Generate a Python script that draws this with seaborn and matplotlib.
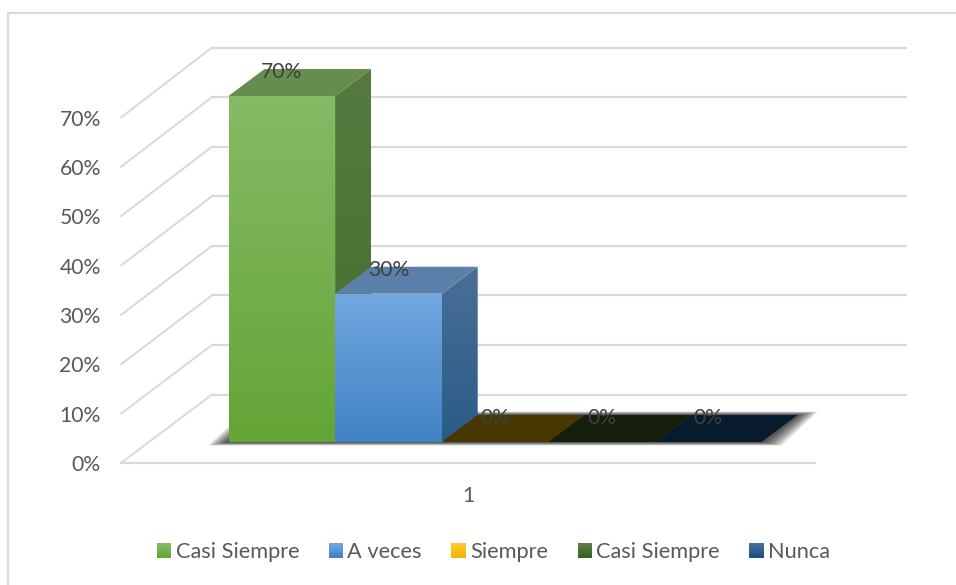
import numpy as np
import pandas as pd
import matplotlib
matplotlib.use("Agg")
import matplotlib.pyplot as plt
from matplotlib.colors import to_rgb, LinearSegmentedColormap
from matplotlib.legend_handler import HandlerBase
from matplotlib.lines import Line2D
from matplotlib.patches import ConnectionPatch, Patch, Polygon, Rectangle
import seaborn as sns

# ---- data ----
series_names = ["Casi Siempre", "A veces", "Siempre", "Casi Siempre", "Nunca"]
series_values = [70, 30, 0, 0, 0]
value_ticks = [0, 10, 20, 30, 40, 50, 60, 70]
category_label = "1"

# ---- styles ----
face_top = ["#86BA66", "#72A8E0", "#FFC832", "#5F7F4A", "#44709F"]
face_bottom = ["#64A536", "#4082C4", "#EFB800", "#3A611F", "#1A5288"]
side_top = ["#567A40", "#4A6F96"]
side_bottom = ["#43702A", "#2B5B88"]
roof_colors = ["#668C4E", "#5B80A9", "#483700", "#151F0B", "#081B2D"]
GRID = "#D9D9D9"
TICK = "#595959"
LABEL = "#404040"
FONT = "Lato"
FS = 15.2

W, H = 956, 585
sns.set_theme(style="white")
plt.rcParams["font.family"] = [FONT, "DejaVu Sans"]
fig = plt.figure(figsize=(W / 100, H / 100), dpi=100, facecolor="white")


def plane(x0, x1, y_bottom, y_top):
    """Axes placed by its pixel box (y measured from the top of the image)."""
    ax = fig.add_axes([x0 / W, 1 - y_bottom / H, (x1 - x0) / W, (y_bottom - y_top) / H])
    ax.patch.set_alpha(0)
    return ax


# chart frame, open towards the right and the bottom
fig.add_artist(Line2D([8 / W, 8 / W, 1], [0, 1 - 13 / H, 1 - 13 / H],
                      color=GRID, lw=1.6, solid_joinstyle="miter"))

# back wall with the gridlines
ax_back = plane(212, 906, 394.5, 47.5)
ax_back.set_xlim(0, 1)
ax_back.set_ylim(value_ticks[0], value_ticks[-1])
ax_back.set_yticks(value_ticks)
ax_back.set_xticks([])
ax_back.tick_params(left=False, labelleft=False)
ax_back.grid(axis="y", color=GRID, lw=1.6, clip_on=False)
ax_back.set_axisbelow(True)
sns.despine(ax=ax_back, left=True, bottom=True)

# front plane with the axis labels
ax_front = plane(121, 815, 463, 117.5)
ax_front.set_xlim(-0.5, 0.5)
ax_front.set_ylim(value_ticks[0], value_ticks[-1])
ax_front.set_yticks(value_ticks, [f"{v}%" for v in value_ticks])
ax_front.set_xticks([0], [category_label])
ax_front.tick_params(axis="both", length=0, labelsize=FS, labelcolor=TICK)
ax_front.tick_params(axis="y", pad=14.5)
ax_front.tick_params(axis="x", pad=16.3)
sns.despine(ax=ax_front, left=True)
ax_front.spines["bottom"].set_color(GRID)
ax_front.spines["bottom"].set_linewidth(1.6)

# oblique wall lines between the two planes
for v in value_ticks:
    fig.add_artist(ConnectionPatch((-0.5, v), (0, v), "data", "data", axesA=ax_front, axesB=ax_back,
                                   color=GRID, lw=1.4, zorder=0.5))

# plane of the bars' front faces
ax = plane(228.5, 761.5, 442, 96)
positions = list(range(len(series_values)))
frame = pd.DataFrame({"position": positions, "value": series_values})
sns.barplot(data=frame, x="position", y="value", hue="position", palette=face_bottom,
            width=1.0, legend=False, dodge=False, ax=ax, zorder=3)
ax.set_xlim(-0.5, len(series_values) - 0.5)
ax.set_ylim(value_ticks[0], value_ticks[-1])
ax.axis("off")
bars = [p for p in ax.patches if isinstance(p, Rectangle)]

DX = 36 / 106.6   # bar depth in category units
DV = 27 / 4.95    # bar depth in value units

# soft shadow of the bar block on the floor
x_lo, x_hi = -0.5, len(series_values) - 0.5
n_layers = 10
for i in range(n_layers, 0, -1):
    f = i / n_layers
    sx, sv = 0.19 * f, 0.7 * f
    ax.add_patch(Polygon([(x_lo - sx, -sv), (x_hi + sx, -sv), (x_hi + DX + sx, DV + sv),
                          (x_lo + DX - sx, DV + sv)],
                         closed=True, fc="black", ec="none", alpha=0.1, zorder=1, clip_on=False))


def gradient(xs, ys, top, bottom, z):
    cmap = LinearSegmentedColormap.from_list("g", [top, bottom])
    im = ax.imshow(np.linspace(0, 1, 128).reshape(-1, 1), cmap=cmap, aspect="auto", zorder=z,
                   extent=(min(xs), max(xs), min(ys), max(ys)), origin="upper")
    poly = Polygon(list(zip(xs, ys)), closed=True, transform=ax.transData, fc="none", ec="none", clip_on=False)
    ax.add_patch(poly)
    im.set_clip_box(fig.bbox)
    im.set_clip_path(poly)


for i, (bar, val) in enumerate(zip(bars, series_values)):
    x0, x1 = bar.get_x(), bar.get_x() + bar.get_width()
    # roof
    ax.add_patch(Polygon([(x0, val), (x1, val), (x1 + DX, val + DV), (x0 + DX, val + DV)],
                         closed=True, fc=roof_colors[i], ec="none", zorder=4, clip_on=False))
    if val > 0:
        # side wall, shaded from top to bottom
        gradient([x1, x1 + DX, x1 + DX, x1], [0, DV, val + DV, val],
                 side_top[i], side_bottom[i], 3.5)
        # front face
        gradient([x0, x1, x1, x0], [0, 0, val, val], face_top[i], face_bottom[i], 5)
    ax.text((x0 + x1) / 2, val + 4.8, f"{val}%", ha="center", va="center",
            fontsize=FS, color=LABEL, zorder=8, clip_on=False)
ax.set_xlim(-0.5, len(series_values) - 0.5)
ax.set_ylim(value_ticks[0], value_ticks[-1])


# legend with small shaded swatches
class Shaded(HandlerBase):
    def __init__(self, top, bottom):
        super().__init__()
        self.top, self.bottom = np.array(to_rgb(top)), np.array(to_rgb(bottom))

    def create_artists(self, legend, handle, xd, yd, width, height, fontsize, trans):
        n = 10
        return [Rectangle((-xd, -yd + height * (1 - (k + 1) / n)), width, height / n + 0.2, transform=trans,
                          fc=self.top + (self.bottom - self.top) * k / (n - 1), ec="none") for k in range(n)]


handles = [Patch(label=f"{n}_{i}") for i, n in enumerate(series_names)]
leg = fig.legend(handles, series_names, ncol=5, frameon=False, loc="center",
                 bbox_to_anchor=(493.5 / W, 1 - 552 / H), fontsize=15.7, labelcolor=TICK,
                 handlelength=0.65, handleheight=0.65, handletextpad=0.2, columnspacing=1.36,
                 handler_map={h: Shaded(face_top[i], face_bottom[i]) for i, h in enumerate(handles)})

fig.savefig("out.png", dpi=100)
